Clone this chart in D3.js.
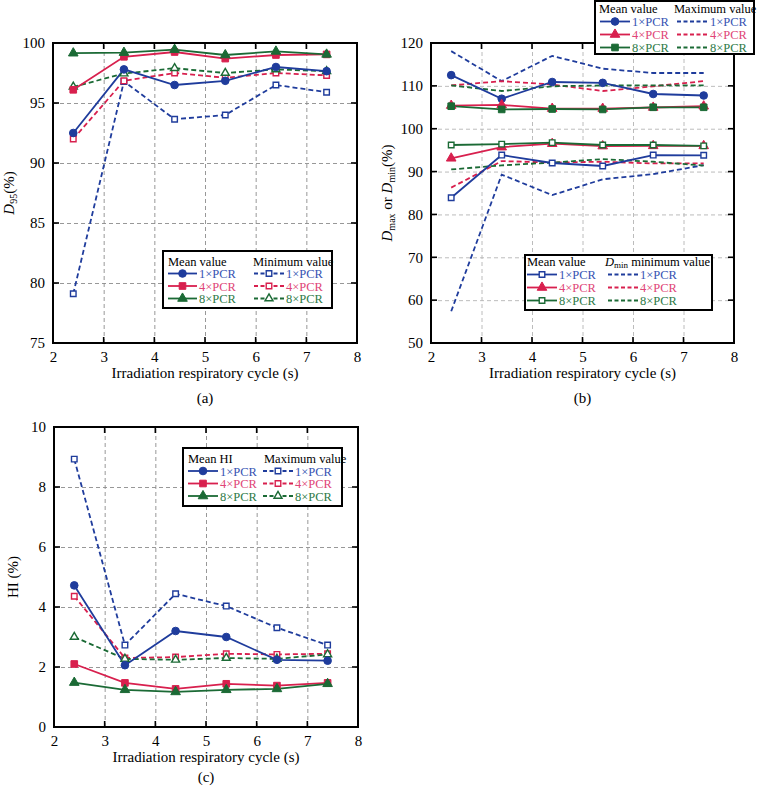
<!DOCTYPE html>
<html><head><meta charset="utf-8">
<script src="https://cdn.jsdelivr.net/npm/d3@7"></script>
<style>body{margin:0;background:#fff}svg{display:block}text{font-family:"Liberation Serif","Times New Roman",serif}</style>
</head><body>
<svg id="c" width="758" height="786"></svg>
<script>
// ---------- data ----------
const cycles = [2.4, 3.4, 4.4, 5.4, 6.4, 7.4];
const pcrLabels = ["1×PCR", "4×PCR", "8×PCR"];
const xTickValues = [2, 3, 4, 5, 6, 7, 8];
const yTicksA = [75, 80, 85, 90, 95, 100];
const yTicksB = [50, 60, 70, 80, 90, 100, 110, 120];
const yTicksC = [0, 2, 4, 6, 8, 10];

// (a) D95
const d95Mean1 = [92.5, 97.8, 96.5, 96.85, 98.0, 97.65];
const d95Mean4 = [96.1, 98.85, 99.25, 98.7, 99.0, 99.05];
const d95Mean8 = [99.15, 99.2, 99.45, 99.0, 99.3, 99.05];
const d95Min1 = [79.1, 96.8, 93.65, 94.0, 96.5, 95.9];
const d95Min4 = [92.0, 96.85, 97.5, 97.1, 97.5, 97.3];
const d95Min8 = [96.35, 97.45, 97.9, 97.5, 97.8, 97.65];

// (b) Dmax / Dmin
const dmaxMean1 = [112.5, 107.0, 110.9, 110.7, 108.1, 107.75];
const dmaxMean4 = [105.4, 105.55, 104.7, 104.7, 104.95, 105.25];
const dmaxMean8 = [105.25, 104.5, 104.6, 104.5, 105.0, 105.0];
const dmaxMax1 = [118.1, 111.1, 117.0, 114.0, 113.0, 113.0];
const dmaxMax4 = [110.1, 111.1, 110.3, 108.8, 109.9, 111.1];
const dmaxMax8 = [110.1, 108.8, 109.9, 110.1, 110.1, 110.1];
const dminMean1 = [83.9, 93.85, 92.0, 91.3, 93.85, 93.8];
const dminMean4 = [93.1, 95.7, 96.5, 95.95, 96.0, 96.0];
const dminMean8 = [96.2, 96.4, 96.75, 96.2, 96.2, 96.0];
const dminMin1 = [57.4, 89.3, 84.5, 88.2, 89.4, 91.5];
const dminMin4 = [86.25, 92.45, 92.1, 92.3, 91.9, 91.9];
const dminMin8 = [90.5, 91.45, 92.1, 92.9, 92.3, 91.4];

// (c) HI
const hiMean1 = [4.72, 2.06, 3.2, 3.0, 2.24, 2.21];
const hiMean4 = [2.1, 1.47, 1.27, 1.44, 1.38, 1.47];
const hiMean8 = [1.48, 1.24, 1.17, 1.24, 1.27, 1.44];
const hiMax1 = [8.93, 2.73, 4.44, 4.03, 3.31, 2.73];
const hiMax4 = [4.36, 2.3, 2.33, 2.44, 2.42, 2.44];
const hiMax8 = [3.0, 2.27, 2.24, 2.3, 2.27, 2.42];

// ---------- styles ----------
const COL = ["#1f3c9c", "#d8204e", "#1b6a35"];
const TXT = ["#3553b3", "#e04577", "#2d7a47"];
const FONT = '"Liberation Serif","Times New Roman",serif';

const svg = d3.select("#c");

function markerPath(type, open) {
  const map = {circle: [d3.symbolCircle, 46], square: [d3.symbolSquare, 44], triangle: [d3.symbolTriangle, 40]};
  const m = map[type];
  return d3.symbol().type(m[0]).size(open ? m[1] * 0.7 : m[1])();
}

function drawMarker(g, x, y, s) {
  if (!s.marker) return;
  g.append("path").attr("d", markerPath(s.marker, s.open))
    .attr("transform", `translate(${x},${y})`)
    .attr("fill", s.open ? "#fff" : COL[s.c])
    .attr("stroke", COL[s.c]).attr("stroke-width", s.open ? 1.4 : 1);
}

function drawPanel(p) {
  const g = svg.append("g");
  const x = d3.scaleLinear().domain([2, 8]).range([p.L, p.R]);
  const y = d3.scaleLinear().domain(p.yDomain).range([p.B, p.T]);
  const W = p.R - p.L, H = p.B - p.T;

  // grid
  const grid = g.append("g");
  grid.append("g").attr("transform", `translate(0,${p.B})`)
    .call(d3.axisBottom(x).tickValues(xTickValues.slice(1, -1)).tickSize(-H).tickFormat(""))
    .call(a => { a.select(".domain").remove(); a.selectAll("line").attr("stroke", p.grid).attr("stroke-dasharray", "4,3").attr("stroke-width", 0.9); });
  grid.append("g").attr("transform", `translate(${p.L},0)`)
    .call(d3.axisLeft(y).tickValues(p.yTicks.slice(1, -1)).tickSize(-W).tickFormat(""))
    .call(a => { a.select(".domain").remove(); a.selectAll("line").attr("stroke", p.grid).attr("stroke-dasharray", "4,3").attr("stroke-width", 0.9); });

  // series
  const line = d3.line().x((d, i) => x(cycles[i])).y(d => y(d));
  p.series.forEach(s => {
    g.append("path").datum(s.v).attr("d", line).attr("fill", "none")
      .attr("stroke", COL[s.c]).attr("stroke-width", 1.8)
      .attr("stroke-dasharray", s.dash ? "5,3" : null);
  });
  p.series.forEach(s => {
    s.v.forEach((d, i) => drawMarker(g, x(cycles[i]), y(d), s));
  });

  // frame and inward ticks
  g.append("rect").attr("x", p.L).attr("y", p.T).attr("width", W).attr("height", H)
    .attr("fill", "none").attr("stroke", "#000").attr("stroke-width", 2);
  const tk = g.append("g").attr("stroke", "#000").attr("stroke-width", 1.6);
  xTickValues.slice(1, -1).forEach(v => {
    tk.append("line").attr("x1", x(v)).attr("x2", x(v)).attr("y1", p.B).attr("y2", p.B - 6);
    tk.append("line").attr("x1", x(v)).attr("x2", x(v)).attr("y1", p.T).attr("y2", p.T + 6);
  });
  p.yTicks.slice(1, -1).forEach(v => {
    tk.append("line").attr("x1", p.L).attr("x2", p.L + 6).attr("y1", y(v)).attr("y2", y(v));
    tk.append("line").attr("x1", p.R).attr("x2", p.R - 6).attr("y1", y(v)).attr("y2", y(v));
  });

  // tick labels via axes
  g.append("g").attr("transform", `translate(0,${p.B})`)
    .call(d3.axisBottom(x).tickValues(xTickValues).tickSize(0).tickPadding(8).tickFormat(d3.format("d")))
    .call(a => { a.select(".domain").remove(); a.selectAll("text").attr("font-family", FONT).attr("font-size", 15).attr("fill", "#000"); });
  g.append("g").attr("transform", `translate(${p.L},0)`)
    .call(d3.axisLeft(y).tickValues(p.yTicks).tickSize(0).tickPadding(8).tickFormat(d3.format("d")))
    .call(a => { a.select(".domain").remove(); a.selectAll("text").attr("font-family", FONT).attr("font-size", 15).attr("fill", "#000"); });

  // x title and panel label
  g.append("text").attr("x", (p.L + p.R) / 2).attr("y", p.B + 35).attr("text-anchor", "middle")
    .attr("font-size", 15).text("Irradiation respiratory cycle (s)");
  g.append("text").attr("x", (p.L + p.R) / 2).attr("y", p.B + p.labelDy).attr("text-anchor", "middle")
    .attr("font-size", 15).text(p.label);

  // y title
  const yt = g.append("text").attr("transform", `translate(${p.yTitleX},${(p.T + p.B) / 2}) rotate(-90)`)
    .attr("text-anchor", "middle").attr("font-size", 15);
  p.yTitle.forEach(part => {
    const t = yt.append("tspan").text(part.t);
    if (part.i) t.attr("font-style", "italic");
    if (part.sub) t.attr("font-size", 10).attr("baseline-shift", "-25%");
  });

  p.legends.forEach(lg => drawLegend(lg));
}

function drawLegend(lg) {
  const g = svg.append("g");
  g.append("rect").attr("x", lg.x0).attr("y", lg.y0).attr("width", lg.x1 - lg.x0).attr("height", lg.y1 - lg.y0)
    .attr("fill", "#fff").attr("stroke", "#000").attr("stroke-width", 2);
  lg.cols.forEach(col => {
    const tt = g.append("text").attr("x", col.tx).attr("y", lg.titleY + 4.5).attr("font-size", 12.5);
    col.title.forEach(part => {
      const t = tt.append("tspan").text(part.t);
      if (part.i) t.attr("font-style", "italic");
      if (part.sub) t.attr("font-size", 9).attr("baseline-shift", "-25%");
    });
    col.series.forEach((s, k) => {
      const yy = lg.rows[k];
      g.append("line").attr("x1", col.lx0).attr("x2", col.lx1).attr("y1", yy).attr("y2", yy)
        .attr("stroke", COL[s.c]).attr("stroke-width", 1.8).attr("stroke-dasharray", s.dash ? "4,2.5" : null);
      drawMarker(g, (col.lx0 + col.lx1) / 2, yy, s);
      g.append("text").attr("x", col.lx1 + 2).attr("y", yy + 4.5).attr("font-size", 12.5)
        .attr("fill", TXT[s.c]).text(pcrLabels[s.c]);
    });
  });
}

// ---------- panel (a) ----------
const aMean = [
  {v: d95Mean1, c: 0, marker: "circle"},
  {v: d95Mean4, c: 1, marker: "square"},
  {v: d95Mean8, c: 2, marker: "triangle"}];
const aMin = [
  {v: d95Min1, c: 0, marker: "square", open: true, dash: true},
  {v: d95Min4, c: 1, marker: "square", open: true, dash: true},
  {v: d95Min8, c: 2, marker: "triangle", open: true, dash: true}];
drawPanel({
  L: 53, R: 357, T: 43, B: 343, yDomain: [75, 100], yTicks: yTicksA, grid: "#8c8c8c", label: "(a)", labelDy: 60,
  yTitleX: 14, yTitle: [{t: "D", i: true}, {t: "95", sub: true}, {t: "(%)"}],
  series: [...aMin, ...aMean],
  legends: [{
    x0: 163, x1: 332, y0: 251, y1: 308, titleY: 261, rows: [273.5, 286, 298.5],
    cols: [
      {tx: 168, lx0: 168, lx1: 197, title: [{t: "Mean value"}], series: aMean},
      {tx: 253, lx0: 254, lx1: 284, title: [{t: "Minimum value"}], series: aMin}]
  }]
});

// ---------- panel (b) ----------
const bMaxMean = [
  {v: dmaxMean1, c: 0, marker: "circle"},
  {v: dmaxMean4, c: 1, marker: "triangle"},
  {v: dmaxMean8, c: 2, marker: "square"}];
const bMaxMax = [
  {v: dmaxMax1, c: 0, dash: true},
  {v: dmaxMax4, c: 1, dash: true},
  {v: dmaxMax8, c: 2, dash: true}];
const bMinMean = [
  {v: dminMean1, c: 0, marker: "square", open: true},
  {v: dminMean4, c: 1, marker: "triangle"},
  {v: dminMean8, c: 2, marker: "square", open: true}];
const bMinMin = [
  {v: dminMin1, c: 0, dash: true},
  {v: dminMin4, c: 1, dash: true},
  {v: dminMin8, c: 2, dash: true}];
drawPanel({
  L: 431, R: 734, T: 43, B: 343, yDomain: [50, 120], yTicks: yTicksB, grid: "#b4b4b4", label: "(b)", labelDy: 60,
  yTitleX: 392, yTitle: [{t: "D", i: true}, {t: "max", sub: true}, {t: " or "}, {t: "D", i: true}, {t: "min", sub: true}, {t: "(%)"}],
  series: [...bMaxMax, ...bMinMin, ...bMaxMean, ...bMinMean],
  legends: [{
    x0: 595, x1: 754, y0: 1, y1: 54, titleY: 8.5, rows: [21.5, 34.5, 47.5],
    cols: [
      {tx: 599, lx0: 600, lx1: 630, title: [{t: "Mean value"}], series: bMaxMean},
      {tx: 674, lx0: 677, lx1: 708, title: [{t: "Maximum value"}], series: bMaxMax}]
  }, {
    x0: 525, x1: 712, y0: 255, y1: 310, titleY: 261, rows: [274.5, 287.5, 300.5],
    cols: [
      {tx: 527, lx0: 527, lx1: 557, title: [{t: "Mean value"}], series: bMinMean},
      {tx: 605, lx0: 608, lx1: 638, title: [{t: "D", i: true}, {t: "min", sub: true}, {t: " minimum value"}], series: bMinMin}]
  }]
});

// ---------- panel (c) ----------
const cMean = [
  {v: hiMean1, c: 0, marker: "circle"},
  {v: hiMean4, c: 1, marker: "square"},
  {v: hiMean8, c: 2, marker: "triangle"}];
const cMax = [
  {v: hiMax1, c: 0, marker: "square", open: true, dash: true},
  {v: hiMax4, c: 1, marker: "square", open: true, dash: true},
  {v: hiMax8, c: 2, marker: "triangle", open: true, dash: true}];
drawPanel({
  L: 54, R: 358, T: 427, B: 727, yDomain: [0, 10], yTicks: yTicksC, grid: "#8c8c8c", label: "(c)", labelDy: 55,
  yTitleX: 18, yTitle: [{t: "HI (%)"}],
  series: [...cMax, ...cMean],
  legends: [{
    x0: 183, x1: 342, y0: 448, y1: 506, titleY: 458, rows: [471, 483.5, 496],
    cols: [
      {tx: 188, lx0: 188, lx1: 218, title: [{t: "Mean HI"}], series: cMean},
      {tx: 264, lx0: 263, lx1: 293, title: [{t: "Maximum value"}], series: cMax}]
  }]
});
</script>
</body></html>
